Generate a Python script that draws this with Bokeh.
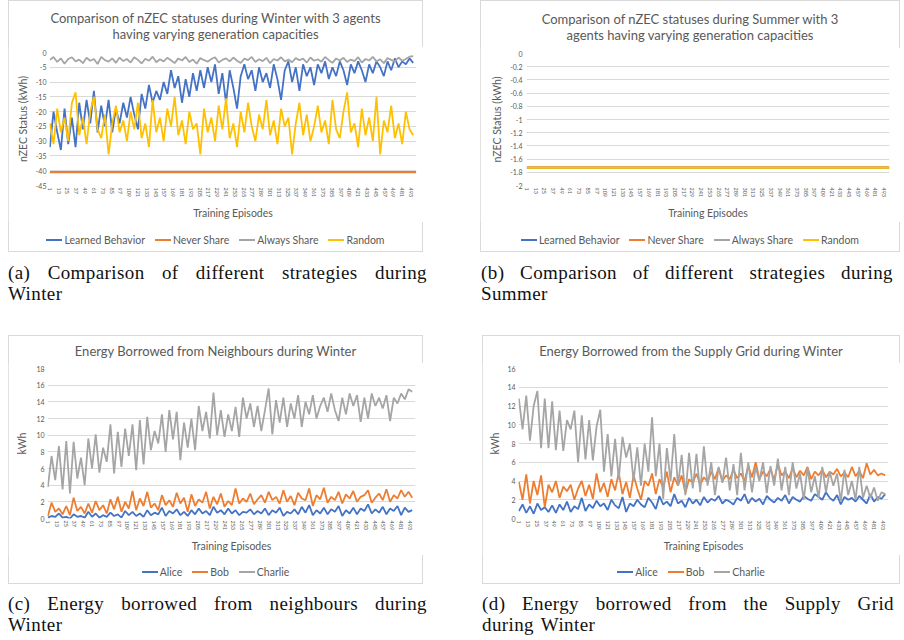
from bokeh.plotting import figure
from bokeh.models import Range1d, FixedTicker, Div, Spacer
from bokeh.layouts import row, column
from bokeh.embed import file_html
from bokeh.resources import INLINE

# ---------------- data ----------------
episodes = list(range(1, 501, 5))          # sampled training episodes (100)
flat_episodes = [1, 500]                    # constant series endpoints
x_ticks = [1, 13, 25, 37, 49, 61, 73, 85, 97, 109, 121, 133, 145, 157, 169, 181,
           193, 205, 217, 229, 241, 253, 265, 277, 289, 301, 313, 325, 337, 349,
           361, 373, 385, 397, 409, 421, 433, 445, 457, 469, 481, 493]
strategies = ["Learned Behavior", "Never Share", "Always Share", "Random"]
agents = ["Alice", "Bob", "Charlie"]

winter_learned = [
    -32, -20, -27, -33, -19, -31, -22, -32, -17, -26,
    -16, -24, -13, -27, -18, -25, -16, -27, -19, -24,
    -17, -22, -15, -21, -26, -14, -19, -11, -17, -13,
    -16, -10, -14, -6, -12, -8, -17, -9, -15, -7,
    -13, -6, -12, -5, -10, -4, -14, -7, -17, -6,
    -12, -19, -8, -4, -9, -6, -13, -5, -10, -7,
    -12, -4, -9, -16, -6, -3, -10, -5, -13, -4,
    -8, -5, -11, -4, -7, -3, -9, -5, -8, -3,
    -6, -11, -4, -7, -3, -6, -10, -4, -7, -3,
    -5, -8, -3, -6, -2, -5, -3, -4, -2, -3.5]
winter_never = [-40.5, -40.5]
winter_always = [
    -2.5, -1.5, -3.2, -2.0, -3.8, -2.2, -1.6, -3.0, -2.4, -3.6,
    -1.8, -2.8, -2.2, -3.9, -1.5, -2.6, -3.1, -2.0, -3.5, -1.7,
    -2.9, -2.2, -3.4, -1.6, -2.5, -3.7, -2.1, -2.8, -1.4, -3.3,
    -2.3, -3.0, -1.8, -2.6, -3.6, -2.0, -2.7, -1.5, -3.2, -2.4,
    -3.8, -1.9, -2.6, -3.1, -2.2, -1.6, -3.4, -2.5, -2.0, -3.0,
    -1.7, -2.8, -3.5, -2.1, -2.6, -1.5, -3.2, -2.3, -2.9, -1.8,
    -3.6, -2.2, -2.7, -1.6, -3.0, -2.4, -3.3, -1.9, -2.6, -2.1,
    -3.4, -1.7, -2.8, -2.3, -3.1, -1.5, -2.6, -3.5, -2.0, -2.7,
    -1.8, -3.2, -2.4, -2.9, -1.6, -3.4, -2.2, -2.7, -1.5, -3.0,
    -2.3, -3.6, -1.9, -2.5, -3.1, -1.7, -2.8, -2.2, -1.4, -1.2]
winter_random = [
    -24, -31, -19, -27, -22, -30, -17, -13.5, -28, -22,
    -31, -20, -15, -26, -29, -21, -34.5, -24, -18, -27,
    -23, -30, -20, -26, -17, -29, -24, -32, -16, -27,
    -22, -30, -19, -25, -15, -28, -23, -31, -20, -26,
    -24, -34.5, -19, -27, -22, -30, -18, -26, -15.5, -29,
    -24, -32, -20, -27, -17, -25, -30, -21, -26, -16,
    -28, -23, -31, -19, -25, -22, -34.5, -24, -17, -28,
    -21, -30, -25, -18, -27, -23, -31, -16, -26, -29,
    -20, -13.5, -27, -24, -32, -19, -28, -22, -30, -15,
    -34.5, -23, -27, -18, -29, -24, -31, -20, -26, -28]
summer_learned = [-1.73, -1.73]
summer_never = [-1.73, -1.73]
summer_always = [-1.73, -1.73]
summer_random = [-1.73, -1.73]

winter_ticks = [0, -5, -10, -15, -20, -25, -30, -35, -40, -45]
winter_tick_labels = ["0", "-5", "-10", "-15", "-20", "-25", "-30", "-35", "-40", "-45"]
summer_ticks = [0, -0.2, -0.4, -0.6, -0.8, -1, -1.2, -1.4, -1.6, -1.8, -2]
summer_tick_labels = ["0", "-0.2", "-0.4", "-0.6", "-0.8", "-1", "-1.2", "-1.4", "-1.6", "-1.8", "-2"]
neigh_ticks = [0, 2, 4, 6, 8, 10, 12, 14, 16, 18]
grid_ticks = [0, 2, 4, 6, 8, 10, 12, 14, 16]

neigh_alice = [
    0.1, 0.3, 0.2, 0.6, 0.1, 0.2, 0.0, 0.5, 0.2, 0.3,
    0.1, 0.8, 0.2, 0.6, 0.1, 0.4, 0.2, 0.7, 0.3, 0.5,
    0.1, 0.9, 0.4, 0.8, 0.3, 0.6, 0.2, 1.0, 0.4, 0.7,
    0.5, 1.3, 0.3, 0.9, 0.6, 1.1, 0.4, 0.8, 0.3, 1.0,
    0.5, 1.2, 0.6, 0.9, 0.4, 1.4, 0.7, 1.0, 0.5, 1.2,
    0.6, 1.0, 0.4, 0.8, 0.7, 1.1, 0.5, 0.9, 0.6, 1.2,
    0.4, 1.0, 0.7, 1.3, 0.3, 0.8, 0.6, 1.1, 0.5, 1.4,
    0.7, 1.6, 0.4, 1.0, 0.6, 1.3, 0.5, 1.1, 0.8, 1.5,
    0.3, 1.0, 0.6, 1.3, 0.5, 1.2, 0.9, 1.7, 0.6, 1.1,
    0.7, 1.4, 0.5, 1.2, 0.9, 1.5, 0.4, 1.3, 0.8, 1.0]
neigh_bob = [
    0.3, 1.9, 0.8, 1.2, 0.5, 1.5, 0.4, 2.5, 0.9, 1.4,
    0.6, 1.8, 0.7, 2.1, 1.0, 1.6, 0.6, 2.3, 1.1, 2.6,
    0.8, 2.0, 1.2, 3.3, 1.0, 2.4, 1.5, 3.2, 1.3, 1.8,
    1.0, 2.8, 1.6, 2.2, 1.4, 3.1, 1.8, 2.5, 0.8, 2.9,
    1.5, 2.3, 1.9, 3.2, 1.2, 2.6, 1.7, 3.0, 1.4, 2.1,
    1.6, 3.6, 1.8, 2.4, 2.0, 3.0, 1.7, 2.3, 2.8, 1.9,
    3.2, 2.2, 2.6, 1.8, 3.4, 2.0, 2.7, 1.6, 3.1, 2.4,
    2.2, 3.6, 1.5, 2.8, 2.3, 3.7, 1.9, 2.6, 2.2, 3.2,
    1.8, 2.9, 2.4, 3.3, 2.0, 2.6, 2.8, 3.4, 1.9, 2.5,
    3.0, 2.2, 3.5, 2.0, 2.8, 2.4, 3.4, 2.6, 3.2, 2.5]
neigh_charlie = [
    3.8, 7.5, 4.6, 8.7, 3.5, 9.3, 3.0, 9.2, 4.8, 7.3,
    4.0, 9.6, 6.0, 10.1, 5.5, 8.5, 6.8, 11.3, 5.4, 10.4,
    6.2, 10.8, 7.5, 11.3, 5.8, 11.8, 6.5, 12.2, 8.2, 10.5,
    9.0, 12.5, 8.0, 13.0, 9.5, 12.8, 7.0, 11.5, 8.5, 12.0,
    8.2, 13.5, 10.5, 12.8, 9.6, 15.1, 10.0, 13.0, 9.8, 12.5,
    10.5, 13.4, 9.8, 14.5, 12.0, 13.8, 11.0, 13.5, 10.5, 13.0,
    15.6, 10.1, 14.2, 11.5, 14.5, 11.0, 13.8, 12.0, 14.8, 11.0,
    14.0, 12.5, 14.8, 12.0, 13.5, 14.5, 12.8, 15.0, 13.0, 11.7,
    14.5, 12.5, 15.0, 13.5, 14.8, 11.6, 14.5, 12.0, 15.0, 13.5,
    14.5, 13.2, 14.8, 11.7, 14.5, 13.8, 15.0, 14.3, 15.5, 15.2]
grid_alice = [
    0.8, 1.5, 0.6, 1.3, 0.5, 1.6, 0.9, 1.2, 0.7, 1.4,
    0.6, 1.5, 0.9, 1.8, 0.7, 1.3, 1.0, 2.2, 0.8, 1.5,
    1.1, 1.9, 1.3, 1.6, 0.9, 2.0, 1.4, 1.1, 2.3, 0.7,
    1.6, 1.3, 2.0, 1.5, 1.2, 2.2, 1.7, 1.0, 2.4, 1.5,
    1.8, 1.3, 2.6, 1.6, 1.9, 1.2, 2.2, 1.6, 2.0, 1.4,
    2.3, 1.7, 2.1, 1.9, 2.4, 1.6, 2.0, 1.8, 1.5, 2.2,
    1.9, 2.6, 1.6, 2.2, 1.8, 2.1, 1.5, 2.4, 2.0, 1.7,
    2.2, 1.9, 2.5, 1.6, 2.3, 2.0, 1.8, 2.4, 2.1, 1.9,
    2.6, 2.3, 2.0, 2.8, 2.2, 1.9, 2.5, 1.5, 2.3, 2.0,
    2.2, 1.8, 2.4, 2.0, 1.6, 2.6, 1.8, 2.3, 2.1, 2.6]
grid_bob = [
    3.9, 2.0, 4.7, 1.6, 4.0, 2.5, 4.6, 1.2, 3.6, 2.8,
    4.0, 2.2, 3.4, 2.9, 3.6, 2.0, 3.2, 4.0, 2.4, 3.6,
    2.1, 4.8, 2.8, 3.8, 2.3, 4.2, 3.0, 4.9, 2.6, 3.9,
    2.2, 4.6, 3.2, 2.0, 4.0, 3.5, 4.8, 2.6, 4.2, 3.3,
    5.0, 2.8, 4.4, 3.5, 4.6, 2.7, 4.2, 3.8, 4.8, 3.6,
    4.4, 3.9, 5.0, 4.2, 5.4, 4.0, 4.6, 4.2, 5.2, 4.3,
    4.8, 4.0, 5.6, 4.4, 6.0, 4.2, 5.0, 4.5, 5.3, 4.1,
    5.8, 4.6, 5.0, 4.3, 5.4, 4.4, 5.1, 4.6, 5.5, 4.2,
    5.0, 4.6, 5.2, 4.4, 5.0, 4.7, 5.3, 4.5, 4.9, 4.4,
    5.5, 4.5, 5.1, 4.3, 5.9, 4.7, 5.2, 4.6, 4.8, 4.6]
grid_charlie = [
    12.8, 9.5, 13.1, 8.3, 12.0, 13.6, 7.5, 12.8, 7.5, 12.5,
    7.3, 11.5, 7.2, 10.5, 9.5, 11.5, 6.0, 11.0, 6.3, 10.5,
    6.2, 9.8, 11.6, 5.0, 9.0, 4.5, 8.5, 4.2, 8.7, 6.5,
    8.0, 4.0, 7.6, 3.5, 8.0, 5.0, 10.8, 4.5, 8.0, 2.1,
    7.5, 4.0, 9.0, 3.5, 6.8, 2.5, 7.0, 3.2, 6.9, 2.8,
    7.7, 3.5, 6.0, 2.5, 5.5, 3.8, 6.5, 3.0, 5.8, 2.5,
    7.0, 3.0, 6.0, 2.8, 5.5, 4.0, 6.0, 2.7, 5.6, 3.5,
    6.4, 3.0, 5.5, 2.5, 6.0, 3.2, 4.8, 2.0, 5.4, 2.8,
    4.5, 2.2, 5.5, 2.8, 5.0, 3.5, 4.8, 1.8, 5.2, 2.5,
    4.0, 2.0, 5.5, 2.2, 3.5, 2.2, 3.3, 1.9, 2.8, 2.6]

titles = {
    "a": ["Comparison of nZEC statuses during Winter with 3 agents",
          "having varying generation capacities"],
    "b": ["Comparison of nZEC statuses during Summer with 3",
          "agents having varying generation capacities"],
    "c": ["Energy Borrowed from Neighbours during Winter"],
    "d": ["Energy Borrowed from the Supply Grid during Winter"],
}
captions = {
    "a": ["(a) Comparison of different strategies during", "Winter"],
    "b": ["(b) Comparison of different strategies during", "Summer"],
    "c": ["(c) Energy borrowed from neighbours during", "Winter"],
    "d": ["(d) Energy borrowed from the Supply Grid", "during Winter"],
}

# ---------------- style ----------------
BLUE, ORANGE, GRAY, YELLOW = "#4472C4", "#ED7D31", "#A5A5A5", "#FFC000"
STRAT_COLORS = [BLUE, ORANGE, GRAY, YELLOW]
AGENT_COLORS = [BLUE, ORANGE, GRAY]
TXT = "#595959"
FONT = "Lato"
LW = 1.8


def make_fig(w, h, left, right, top, bottom, yr, yticks, ylabels, ytitle,
             ystand, ylab_stand):
    p = figure(width=w, height=h, output_backend="svg", toolbar_location=None,
               x_range=Range1d(0.5, 500.5), y_range=Range1d(*yr),
               min_border_left=left, min_border_right=right,
               min_border_top=top, min_border_bottom=bottom)
    p.outline_line_color = None
    p.xgrid.visible = False
    p.ygrid.grid_line_color = "#D9D9D9"
    p.ygrid.grid_line_width = 1
    p.ygrid.ticker = FixedTicker(ticks=yticks)
    xa, ya = p.xaxis[0], p.yaxis[0]
    xa.ticker = FixedTicker(ticks=x_ticks)
    ya.ticker = FixedTicker(ticks=yticks)
    ya.major_label_overrides = {t: l for t, l in zip(yticks, ylabels)}
    for ax in (xa, ya):
        ax.axis_line_color = None
        ax.major_tick_line_color = None
        ax.minor_tick_line_color = None
        ax.major_tick_out = 0
        ax.major_tick_in = 0
        ax.minor_tick_out = 0
        ax.minor_tick_in = 0
        ax.major_label_text_color = TXT
        ax.major_label_text_font = FONT
        ax.axis_label_text_color = TXT
        ax.axis_label_text_font = FONT
        ax.axis_label_text_font_style = "normal"
        ax.axis_label_text_font_size = "10.5px"
    xa.major_label_orientation = "vertical"
    xa.major_label_text_font_size = "5.5px"
    xa.major_label_standoff = 2
    xa.axis_label = "Training Episodes"
    xa.axis_label_standoff = 7
    ya.major_label_text_font_size = "7px"
    ya.major_label_standoff = ystand
    ya.axis_label = ytitle
    ya.axis_label_standoff = ylab_stand
    return p


def title_div(lines, w, h, pad):
    html = ('<div style="width:%dpx;text-align:center;font-family:Lato,sans-serif;'
            'font-size:13px;line-height:16px;color:%s;padding-top:%dpx;white-space:nowrap;">%s</div>'
            % (w, TXT, pad, "<br>".join(lines)))
    return Div(text=html, width=w, height=h, margin=0)


def legend_div(labels, colors, w, h, pad):
    parts = []
    for lab, col in zip(labels, colors):
        parts.append('<span style="display:inline-block;margin:0 5px;">'
                     '<span style="display:inline-block;width:16px;height:2px;'
                     'background:%s;vertical-align:middle;margin-right:2px;"></span>'
                     '<span style="vertical-align:middle;">%s</span></span>' % (col, lab))
    html = ('<div style="width:%dpx;text-align:center;font-family:Lato,sans-serif;'
            'font-size:10.5px;line-height:14px;color:%s;padding-top:%dpx;white-space:nowrap;">%s</div>'
            % (w, TXT, pad, "".join(parts)))
    return Div(text=html, width=w, height=h, margin=0)


BOX = {"outline": "1px solid #d9d9d9", "outline-offset": "-1px"}

# (a) winter strategies
fa = make_fig(415, 176, 41, 7, 6, 34, (-45, 0), winter_ticks, winter_tick_labels,
              "nZEC Status (kWh)", 3, 4)
for ys, xs, c in [(winter_learned, episodes, BLUE), (winter_never, flat_episodes, ORANGE),
                  (winter_always, episodes, GRAY), (winter_random, episodes, YELLOW)]:
    fa.line(xs, ys, line_color=c, line_width=LW + (0.4 if len(ys) == 2 else 0))
chart_a = column(title_div(titles["a"], 415, 46, 10), fa,
                 legend_div(strategies, STRAT_COLORS, 415, 30, 10), styles=BOX)

# (b) summer strategies
fb = make_fig(420, 175, 46, 11, 6, 34, (-2, 0), summer_ticks, summer_tick_labels,
              "nZEC Status (kWh)", 4, 4)
for ys, c in [(summer_learned, BLUE), (summer_never, ORANGE),
              (summer_always, GRAY), (summer_random, YELLOW)]:
    fb.line(flat_episodes, ys, line_color=c, line_width=LW + 0.4)
chart_b = column(title_div(titles["b"], 420, 47, 11), fb,
                 legend_div(strategies, STRAT_COLORS, 420, 30, 10), styles=BOX)

# (c) neighbours
fc = make_fig(415, 193, 39, 8, 6, 34, (0, 18), neigh_ticks, [str(t) for t in neigh_ticks],
              "kWh", 3, 5)
for ys, c in [(neigh_alice, BLUE), (neigh_bob, ORANGE), (neigh_charlie, GRAY)]:
    fc.line(episodes, ys, line_color=c, line_width=LW)
chart_c = column(title_div(titles["c"], 415, 27, 8), fc,
                 legend_div(agents, AGENT_COLORS, 415, 29, 9), styles=BOX)

# (d) supply grid
fd = make_fig(418, 193, 36, 12, 6, 34, (0, 16), grid_ticks, [str(t) for t in grid_ticks],
              "kWh", 3, 3)
for ys, c in [(grid_alice, BLUE), (grid_bob, ORANGE), (grid_charlie, GRAY)]:
    fd.line(episodes, ys, line_color=c, line_width=LW)
chart_d = column(title_div(titles["d"], 418, 27, 8), fd,
                 legend_div(agents, AGENT_COLORS, 418, 29, 9), styles=BOX)


def caption(lines, w, h, pad, inner):
    html = (
        '<div style="font-family:\'Liberation Serif\',\'Times New Roman\',serif;'
        'font-size:19px;line-height:21px;color:#111;width:%dpx;padding-top:%dpx;'
        'padding-left:3px;letter-spacing:0.4px;word-spacing:2px;">'
        '<div style="text-align:justify;text-align-last:justify;white-space:nowrap;">%s</div>'
        '<div>%s</div></div>' % (inner, pad, lines[0], lines[1]))
    return Div(text=html, width=w, height=h)


cap_a = caption(captions["a"], 463, 73, 5, 422)
cap_b = caption(captions["b"], 410, 73, 5, 415)
cap_c = caption(captions["c"], 464, 44, 4, 422)
cap_d = caption(captions["d"], 408, 44, 4, 415)

layout = column(
    row(Spacer(width=8), chart_a, Spacer(width=57), chart_b),
    row(cap_a, cap_b),
    row(Spacer(width=8), chart_c, Spacer(width=59), chart_d),
    row(cap_c, cap_d),
)

open("out.html", "w").write(file_html(layout, INLINE))
